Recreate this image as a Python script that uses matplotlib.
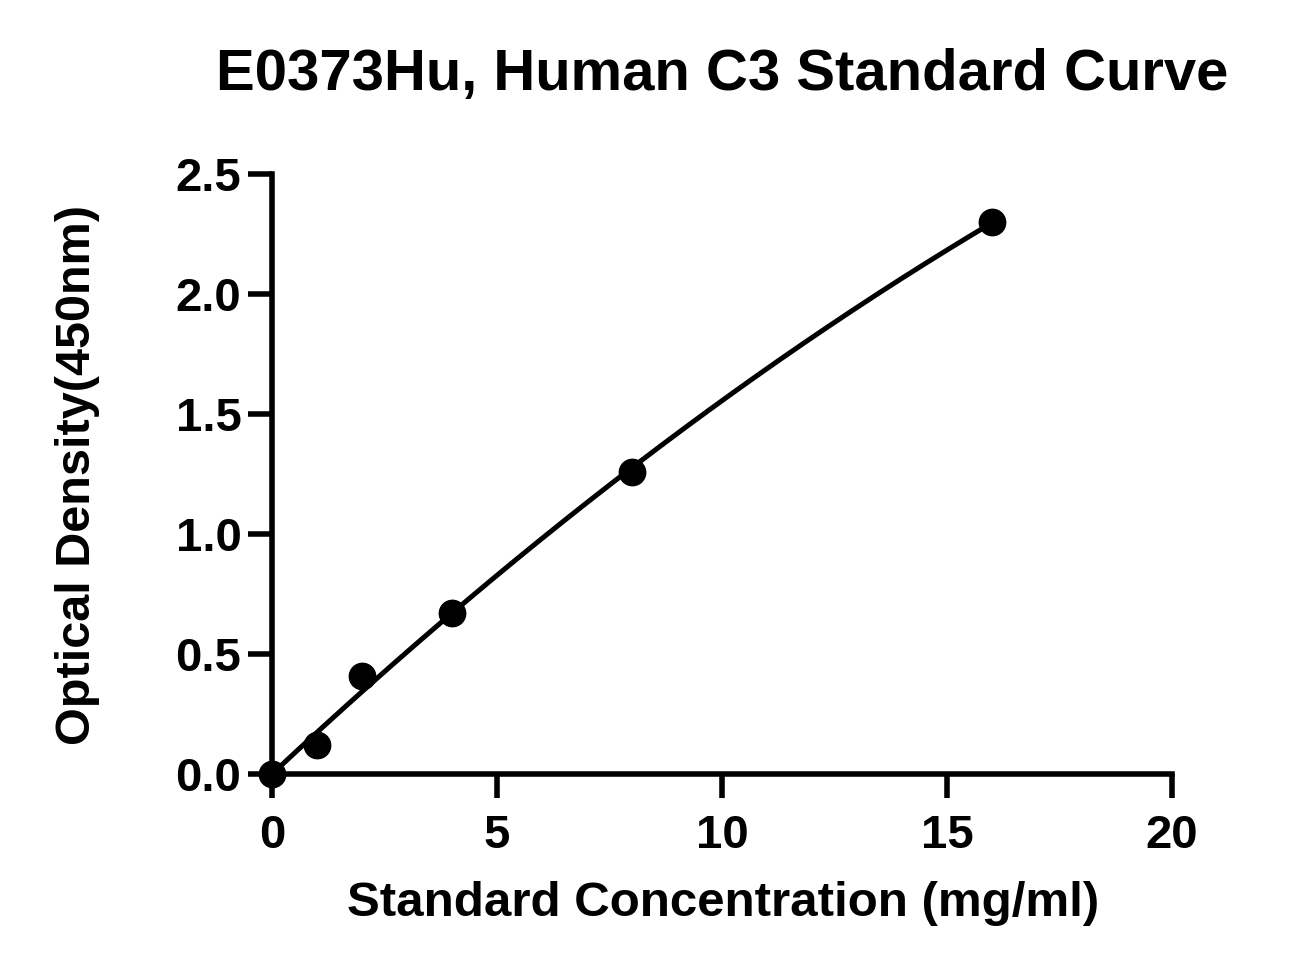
import numpy as np
import matplotlib
matplotlib.use("Agg")
import matplotlib.pyplot as plt

title = "E0373Hu, Human C3 Standard Curve"
x_label = "Standard Concentration (mg/ml)"
y_label = "Optical Density(450nm)"
conc = [0, 1, 2, 4, 8, 16]
od = [0.0, 0.12, 0.41, 0.67, 1.26, 2.30]
x_ticks = [0, 5, 10, 15, 20]
y_ticks = [0.0, 0.5, 1.0, 1.5, 2.0, 2.5]

plt.rcParams['font.family'] = ['Liberation Sans', 'DejaVu Sans']
plt.rcParams['font.weight'] = 'bold'

fig = plt.figure(figsize=(13.11, 9.75), dpi=100)
ax = fig.add_axes([272/1311, 1 - 774/975, 900/1311, 600/975])

# curve fit: y = a*x + b*x^2 through origin
xc = np.array(conc, float)
yc = np.array(od, float)
A = np.vstack([xc, xc**2]).T
coef, *_ = np.linalg.lstsq(A, yc, rcond=None)
xs = np.linspace(0, max(conc), 300)
ax.plot(xs, coef[0]*xs + coef[1]*xs**2, color='black', lw=3.6, zorder=2, clip_on=False)
ax.plot(conc, od, 'o', color='black', ms=19, zorder=3, clip_on=False)

ax.set_xlim(0, 20)
ax.set_ylim(0, 2.5)
ax.set_xticks(x_ticks)
ax.set_yticks(y_ticks)
ax.set_xticklabels([str(t) for t in x_ticks])
ax.set_yticklabels([f"{t:.1f}" for t in y_ticks])
for s in ['top', 'right']:
    ax.spines[s].set_visible(False)
for s in ['left', 'bottom']:
    ax.spines[s].set_linewidth(4.0)
ax.tick_params(axis='both', direction='out', length=17, width=4.0, labelsize=34)
ax.tick_params(axis='x', pad=12)
ax.tick_params(axis='y', pad=5)
for lab in ax.get_xticklabels() + ax.get_yticklabels():
    lab.set_fontweight('bold')

ax.set_xlabel(x_label, fontsize=35.5, fontweight='bold')
ax.set_ylabel(y_label, fontsize=35, fontweight='bold')
ax.xaxis.label.set_va('center')
ax.yaxis.label.set_va('center')
ax.xaxis.set_label_coords(0.501, -0.215)
ax.yaxis.set_label_coords(-0.2156, 0.498)
fig.text(722/1311, 1 - 75/975, title, fontsize=41.8, fontweight='bold', ha='center', va='center')

fig.savefig("out.png", dpi=100)
